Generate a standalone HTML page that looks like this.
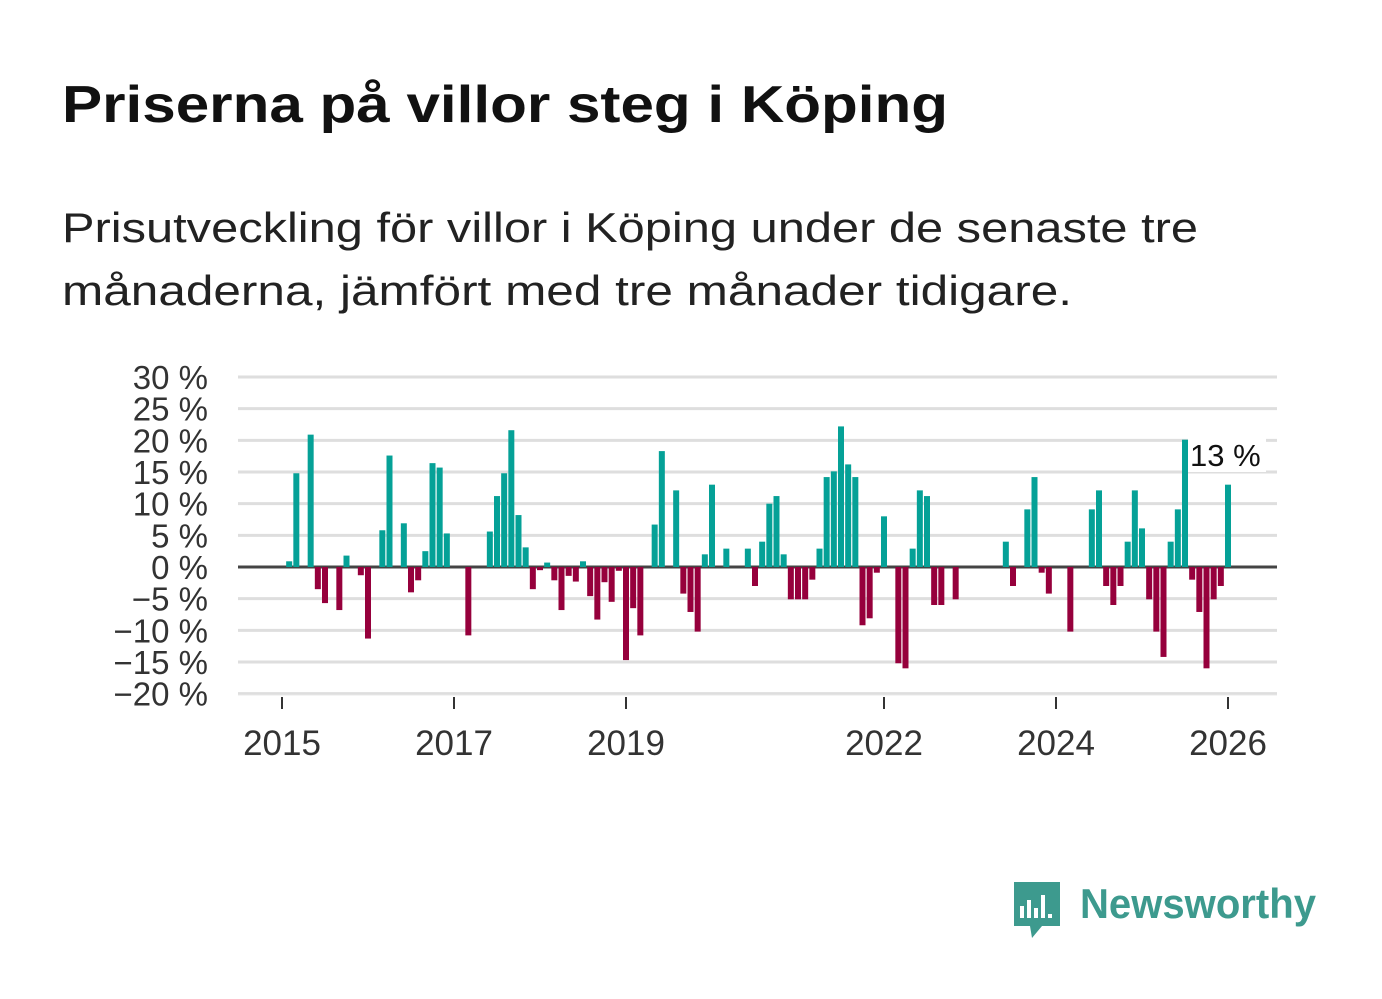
<!DOCTYPE html>
<html><head><meta charset="utf-8"><style>
html,body{margin:0;padding:0;background:#fff;}
svg{display:block;font-family:"Liberation Sans",sans-serif;}
</style></head><body>
<svg id="chart" width="1382" height="999" viewBox="0 0 1382 999" xmlns="http://www.w3.org/2000/svg">
<text x="62" y="122" font-size="52" font-weight="bold" fill="#111" textLength="886" lengthAdjust="spacingAndGlyphs">Priserna på villor steg i Köping</text>
<text x="62" y="242" font-size="42" fill="#222" textLength="1136" lengthAdjust="spacingAndGlyphs">Prisutveckling för villor i Köping under de senaste tre</text>
<text x="62" y="305" font-size="42" fill="#222" textLength="1010" lengthAdjust="spacingAndGlyphs">månaderna, jämfört med tre månader tidigare.</text>
<g id="grid"></g>
<g id="bars"></g>
<g id="xaxis"></g>
<g id="yaxis"></g>
<g>
<path d="M1014 882 h46 v44 h-18 l-10 12 l-2 -12 h-16 z" fill="#3d9a8e"/>
<rect x="1020" y="906" width="4" height="12" fill="#fff"/>
<rect x="1027" y="900" width="4" height="18" fill="#fff"/>
<rect x="1034" y="908" width="4" height="10" fill="#fff"/>
<rect x="1041" y="895" width="4" height="23" fill="#fff"/>
<rect x="1048" y="914" width="4" height="4" fill="#fff"/>
<text x="1080" y="918" font-size="42" font-weight="bold" fill="#3d9a8e" textLength="236" lengthAdjust="spacingAndGlyphs">Newsworthy</text>
</g>
</svg>
<script>
const monthIdx = [1,2,4,5,6,8,9,11,12,14,15,17,18,19,20,21,22,23,26,29,30,31,32,33,34,35,36,37,38,39,40,41,42,43,44,45,46,47,48,49,50,52,53,55,56,57,58,59,60,62,65,66,67,68,69,70,71,72,73,74,75,76,77,78,79,80,81,82,83,84,86,87,88,89,90,91,92,94,101,102,104,105,106,107,110,113,114,115,116,117,118,119,120,121,122,123,124,125,126,127,128,129,130,131,132];
const values = [0.9,14.8,20.9,-3.5,-5.7,-6.8,1.8,-1.3,-11.3,5.8,17.6,6.9,-4,-2.1,2.5,16.4,15.7,5.3,-10.8,5.6,11.2,14.8,21.6,8.2,3.1,-3.5,-0.5,0.7,-2.1,-6.8,-1.4,-2.3,0.9,-4.6,-8.3,-2.4,-5.5,-0.6,-14.7,-6.5,-10.8,6.7,18.3,12.1,-4.2,-7.1,-10.2,2,13,2.9,2.9,-3,4,10,11.2,2,-5.1,-5.1,-5.1,-2,2.9,14.2,15.1,22.2,16.2,14.2,-9.2,-8.1,-0.9,8,-15.2,-16,2.9,12.1,11.2,-6,-6,-5.1,4,-3,9.1,14.2,-0.9,-4.2,-10.2,9.1,12.1,-3,-6,-3,4,12.1,6.1,-5.1,-10.2,-14.2,4,9.1,20.1,-2,-7.1,-16,-5.1,-3,13];
const yTicks = [30,25,20,15,10,5,0,-5,-10,-15,-20];
const xTickYears = [2015,2017,2019,2022,2024,2026];
const lastLabel = "13 %";

const NS="http://www.w3.org/2000/svg";
const y = v => 567 - v*6.333;
const x = m => 282 + m*(86/12);
const xYear = yr => x((yr-2015)*12);
function mk(tag, attrs, parent){const e=document.createElementNS(NS,tag);for(const k in attrs)e.setAttribute(k,attrs[k]);parent.appendChild(e);return e;}
const grid=document.getElementById('grid'), bars=document.getElementById('bars'), xa=document.getElementById('xaxis'), ya=document.getElementById('yaxis');
yTicks.forEach(t=>{
  if(t!==0){const l=mk('line',{x1:238,x2:1277,y1:y(t),y2:y(t),stroke:'#dedede','stroke-width':3},grid);
  
  }
  const tx=mk('text',{x:208,y:y(t)+12,'text-anchor':'end','font-size':33,fill:'#333'},ya);
  tx.textContent=(t<0?'\u2212'+(-t):t)+' %';
  
  
});
monthIdx.forEach((m,i)=>{
  const v=values[i];
  const r=mk('rect',{x:x(m)-3,width:6,y:Math.min(y(v),567),height:Math.abs(y(v)-567),fill:v>=0?'#05a197':'#96003c'},bars);
  
  
});
const z=mk('line',{x1:238,x2:1277,y1:567,y2:567,stroke:'#444','stroke-width':3},grid);


const ax=mk('line',{x1:238,x2:1277,y1:695,y2:695,stroke:'#e8e8e8','stroke-width':1},xa);


xTickYears.forEach(yr=>{
  const tk=mk('line',{x1:xYear(yr),x2:xYear(yr),y1:697,y2:709,stroke:'#333','stroke-width':2},xa);
  
  
  const t=mk('text',{x:xYear(yr),y:755,'text-anchor':'middle','font-size':35,fill:'#333'},xa);
  t.textContent=yr;
  
  
});
// label on last bar
const li=monthIdx.length-1;
const bg=mk('rect',{x:1188,y:436,width:78,height:36,fill:'#fff'},bars);


const lab=mk('text',{x:1190,y:466,'font-size':31,fill:'#111'},bars);
lab.textContent=lastLabel;


</script>
</body></html>
